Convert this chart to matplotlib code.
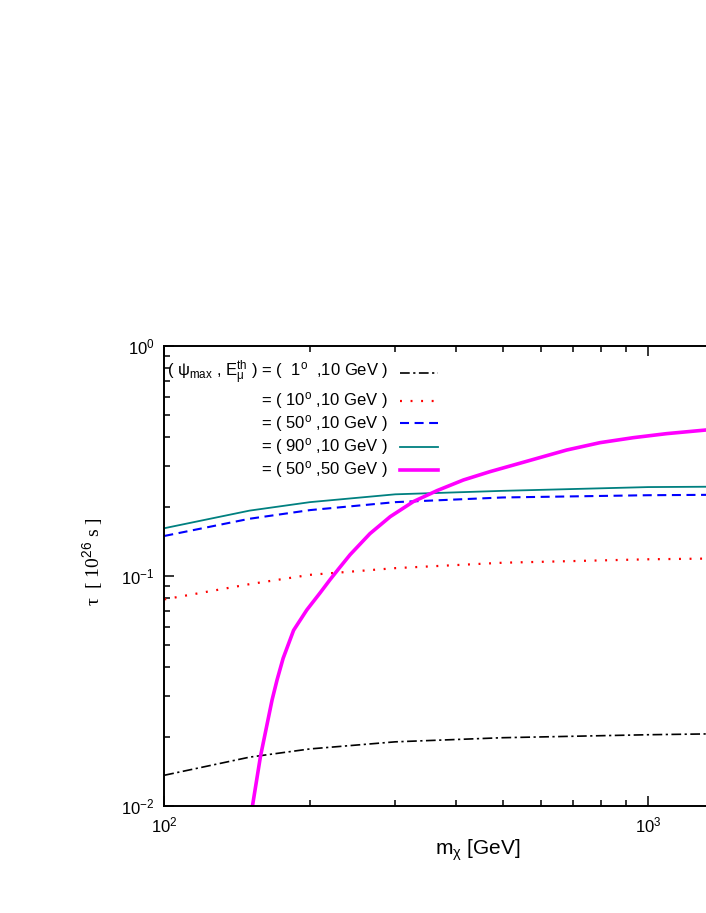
import matplotlib
matplotlib.use("Agg")
import matplotlib.pyplot as plt
from matplotlib.ticker import LogLocator, NullFormatter

plt.rcParams['font.family'] = ['Liberation Sans', 'DejaVu Sans']
plt.rcParams['mathtext.fontset'] = 'custom'
plt.rcParams['mathtext.rm'] = 'Liberation Sans'
plt.rcParams['mathtext.it'] = 'Liberation Sans:italic'
plt.rcParams['lines.scale_dashes'] = False

# m_chi [GeV] and tau [1e26 s]
m_10 = [100, 150, 200, 300, 500, 1000, 1400]
tau_1deg = [0.0136, 0.0163, 0.0177, 0.0190, 0.0198, 0.0204, 0.0206]
tau_10deg = [0.079, 0.092, 0.101, 0.108, 0.114, 0.118, 0.119]
tau_50deg = [0.149, 0.177, 0.193, 0.209, 0.219, 0.224, 0.225]
tau_90deg = [0.161, 0.192, 0.209, 0.226, 0.234, 0.243, 0.244]

m_50 = [152, 158, 167, 171, 176, 185, 197, 210, 220, 229, 242, 266, 293,
        327, 366, 415, 471, 543, 579, 678, 795, 931, 1091, 1330]
tau_50deg_50gev = [0.0099, 0.0164, 0.0289, 0.0353, 0.0438, 0.0580, 0.0711,
                   0.0845, 0.0962, 0.1070, 0.1235, 0.1525, 0.1808, 0.2101,
                   0.2345, 0.2609, 0.2836, 0.3085, 0.3205, 0.3520, 0.3790,
                   0.3983, 0.4147, 0.431]

labels = [r"( ψ$_\mathrm{max}$ , $\mathrm{E}_{\mathrm{\mu}}^{\mathrm{th}}$ ) = (  1$^\mathrm{o}$  ,10 GeV )",
          r"= ( 10$^\mathrm{o}$ ,10 GeV )",
          r"= ( 50$^\mathrm{o}$ ,10 GeV )",
          r"= ( 90$^\mathrm{o}$ ,10 GeV )",
          r"= ( 50$^\mathrm{o}$ ,50 GeV )"]

fig = plt.figure(figsize=(7.06, 9.13), dpi=100)
ax = fig.add_axes([0.2327, 0.1172, 0.7673, 0.5042])

styles = [
    dict(color='black', lw=1.2, dashes=(7, 2.5, 1.6, 2.5)),
    dict(color='#ff0000', lw=1.6, dashes=(1.4, 6.2)),
    dict(color='#0000ff', lw=1.5, dashes=(6.5, 4)),
    dict(color='#008080', lw=1.3),
    dict(color='#ff00ff', lw=2.6),
]
series = [(m_10, tau_1deg), (m_10, tau_10deg), (m_10, tau_50deg),
          (m_10, tau_90deg), (m_50, tau_50deg_50gev)]

for (x, y), st in zip(series, styles):
    ax.plot(x, y, **st)

ax.set_xscale('log')
ax.set_yscale('log')
ax.set_xlim(100, 10 ** (2 + 541.7 / 484))
ax.set_ylim(0.01, 1)

ax.xaxis.set_major_locator(LogLocator(base=10))
ax.xaxis.set_minor_locator(LogLocator(base=10, subs=range(2, 10)))
ax.xaxis.set_minor_formatter(NullFormatter())
ax.yaxis.set_minor_formatter(NullFormatter())

ax.tick_params(which='both', direction='in', top=True, right=False,
               width=1.1, labelsize=12, pad=7)
ax.tick_params(which='major', length=7.2)
ax.tick_params(which='minor', length=4.3)
for s in ['left', 'bottom', 'top']:
    ax.spines[s].set_linewidth(1.4)
ax.spines['right'].set_visible(False)

# legend drawn by hand, text right-aligned like the original
rows_y = [0.941, 0.880, 0.831, 0.780, 0.730]
for lab, yy, st in zip(labels, rows_y, styles):
    ax.text(0.413, yy, lab, transform=ax.transAxes, ha='right', va='center',
            fontsize=12)
    ax.plot([0.436, 0.506], [yy, yy], transform=ax.transAxes, clip_on=False, **st)

fig.text(478 / 706, 1 - 855 / 913, r"m$_{\mathrm{\chi}}$ [GeV]", ha='center',
         va='baseline', fontsize=15)
fig.text(93 / 706, 1 - 562 / 913, r"τ  [ 10$^{26}$ s ]", ha='center',
         va='center', rotation=90, fontsize=14, family=['Liberation Serif'])

fig.savefig('out.png', dpi=100)
